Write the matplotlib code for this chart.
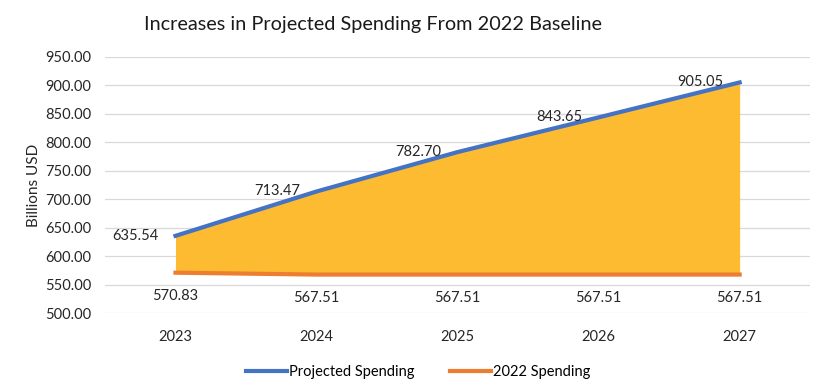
import matplotlib
matplotlib.use("Agg")
import matplotlib.pyplot as plt

years = ["2023", "2024", "2025", "2026", "2027"]
projected = [635.54, 713.47, 782.70, 843.65, 905.05]
baseline = [570.83, 567.51, 567.51, 567.51, 567.51]
y_ticks = [500, 550, 600, 650, 700, 750, 800, 850, 900, 950]

BLUE = "#4472C4"
ORANGE = "#ED7D31"
GOLD = "#FCBB30"

plt.rcParams["font.family"] = ["Lato", "DejaVu Sans"]

fig = plt.figure(figsize=(8.2, 3.92), dpi=100)
ax = fig.add_axes([0.128, 0.2015, 0.86, 0.6535])

x = list(range(len(years)))
ax.fill_between(x, baseline, projected, color=GOLD, lw=0, zorder=2)
ax.plot(x, projected, color=BLUE, lw=3, label="Projected Spending", zorder=3)
ax.plot(x, baseline, color=ORANGE, lw=3, label="2022 Spending", zorder=3)

for xi, v in zip(x, projected):
    ax.annotate(f"{v:.2f}", (xi, v), xytext=(-12, 0), textcoords="offset points",
                ha="right", va="center", fontsize=10.5, color="#262626", zorder=4)
for xi, v in zip(x, baseline):
    ax.annotate(f"{v:.2f}", (xi, v), xytext=(0, -17), textcoords="offset points",
                ha="center", va="center", fontsize=10.5, color="#262626", zorder=4)

ax.set_xlim(-0.5, len(years) - 0.5)
ax.set_ylim(500, 950)
ax.set_xticks(x)
ax.set_xticklabels(years)
ax.set_yticks(y_ticks)
ax.set_yticklabels([f"{t:.2f}" for t in y_ticks])
ax.tick_params(length=0, labelsize=10.5, colors="#262626")
ax.tick_params(axis="x", pad=12)
ax.tick_params(axis="y", pad=10)
ax.grid(axis="y", color="#D9D9D9", lw=0.9, zorder=0)
ax.set_axisbelow(True)
for s in ax.spines.values():
    s.set_visible(False)

ax.set_ylabel("Billions USD", fontsize=11, color="#262626", labelpad=3)
fig.suptitle("Increases in Projected Spending From 2022 Baseline", fontsize=14.3,
             color="#1a1a1a", y=0.96, x=0.455)

fig.legend(loc="lower center", bbox_to_anchor=(0.51, 0.0), ncol=2, frameon=False,
           fontsize=10.5, handlelength=2.8, handletextpad=0.1, columnspacing=2.5)

fig.savefig("out.png", dpi=100)
